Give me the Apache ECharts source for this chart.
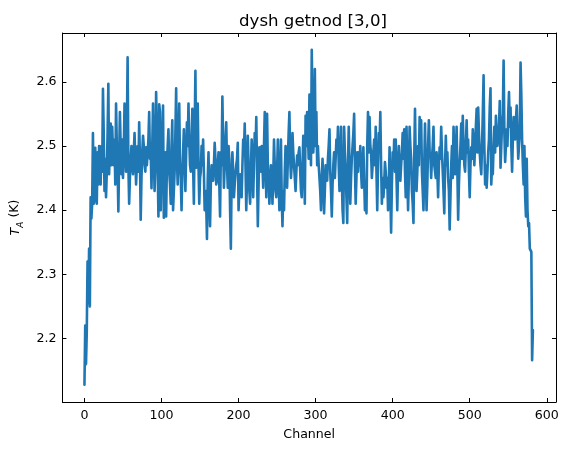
<!DOCTYPE html>
<html>
<head>
<meta charset="utf-8">
<script src="https://cdn.jsdelivr.net/npm/echarts@6/dist/echarts.min.js"></script>
<style>html,body{margin:0;padding:0;background:#fff}#c{width:569px;height:450px}</style>
</head>
<body>
<div id="c"></div>
<script>
var titleText = 'dysh getnod [3,0]';
var xName = 'Channel';
var xTicks = [0, 100, 200, 300, 400, 500, 600];
var yTicks = [2.2, 2.3, 2.4, 2.5, 2.6];
var taValues = [
2.128,2.22,2.16,2.21,2.32,2.255,2.34,2.25,2.42,2.387,
2.41,2.52,2.41,2.47,2.497,2.415,2.41,2.49,2.44,2.50,
2.47,2.44,2.50,2.46,2.589,2.52,2.43,2.48,2.42,2.46,
2.52,2.597,2.456,2.50,2.535,2.47,2.53,2.49,2.47,2.51,
2.44,2.566,2.50,2.466,2.398,2.48,2.553,2.50,2.456,2.51,
2.45,2.49,2.566,2.50,2.46,2.52,2.638,2.47,2.41,2.45,
2.48,2.50,2.47,2.456,2.49,2.52,2.48,2.44,2.47,2.50,
2.46,2.537,2.48,2.385,2.45,2.49,2.516,2.50,2.47,2.46,
2.498,2.47,2.49,2.51,2.553,2.48,2.49,2.434,2.50,2.566,
2.49,2.43,2.47,2.584,2.52,2.47,2.39,2.565,2.553,2.40,
2.47,2.51,2.563,2.388,2.45,2.49,2.39,2.47,2.50,2.526,
2.46,2.44,2.41,2.50,2.54,2.40,2.40,2.46,2.52,2.59,
2.48,2.44,2.50,2.566,2.47,2.45,2.40,2.46,2.49,2.526,
2.47,2.43,2.49,2.537,2.50,2.566,2.51,2.47,2.46,2.50,
2.558,2.47,2.41,2.52,2.617,2.466,2.51,2.566,2.47,2.41,
2.45,2.46,2.50,2.47,2.51,2.46,2.40,2.43,2.41,2.355,
2.45,2.49,2.42,2.375,2.44,2.47,2.46,2.446,2.47,2.505,
2.48,2.44,2.446,2.47,2.49,2.44,2.39,2.49,2.47,2.577,
2.50,2.435,2.47,2.51,2.537,2.47,2.435,2.50,2.48,2.40,
2.34,2.45,2.49,2.46,2.42,2.44,2.456,2.47,2.48,2.505,
2.40,2.43,2.456,2.44,2.42,2.47,2.51,2.49,2.535,2.47,
2.40,2.45,2.516,2.47,2.43,2.41,2.46,2.51,2.48,2.42,
2.47,2.52,2.49,2.545,2.46,2.375,2.44,2.498,2.47,2.46,
2.50,2.47,2.435,2.50,2.553,2.48,2.42,2.55,2.47,2.45,
2.41,2.44,2.47,2.46,2.41,2.45,2.51,2.47,2.43,2.42,
2.46,2.51,2.45,2.40,2.44,2.51,2.42,2.375,2.43,2.40,
2.46,2.50,2.47,2.435,2.48,2.52,2.553,2.48,2.45,2.47,
2.52,2.49,2.47,2.45,2.43,2.46,2.485,2.47,2.49,2.498,
2.46,2.43,2.42,2.47,2.516,2.49,2.41,2.547,2.50,2.553,
2.52,2.48,2.58,2.53,2.47,2.65,2.55,2.49,2.52,2.62,
2.50,2.553,2.47,2.50,2.47,2.45,2.43,2.40,2.45,2.48,
2.44,2.395,2.43,2.47,2.45,2.446,2.48,2.50,2.526,2.46,
2.43,2.39,2.44,2.47,2.49,2.45,2.48,2.51,2.49,2.53,
2.47,2.43,2.48,2.53,2.45,2.40,2.38,2.53,2.49,2.46,
2.42,2.38,2.47,2.53,2.47,2.41,2.45,2.48,2.50,2.52,
2.55,2.47,2.41,2.45,2.49,2.46,2.49,2.47,2.50,2.46,
2.435,2.47,2.498,2.45,2.40,2.44,2.395,2.50,2.553,2.49,
2.545,2.50,2.49,2.45,2.47,2.49,2.51,2.47,2.53,2.46,
2.40,2.47,2.52,2.50,2.553,2.47,2.41,2.45,2.42,2.44,
2.475,2.46,2.435,2.45,2.40,2.44,2.498,2.43,2.365,2.44,
2.49,2.47,2.51,2.46,2.51,2.45,2.40,2.46,2.50,2.47,
2.446,2.47,2.49,2.52,2.48,2.526,2.46,2.42,2.53,2.46,
2.40,2.45,2.53,2.50,2.48,2.43,2.41,2.38,2.48,2.558,
2.47,2.43,2.46,2.50,2.47,2.545,2.49,2.54,2.46,2.43,
2.40,2.47,2.535,2.46,2.40,2.44,2.50,2.54,2.49,2.485,
2.45,2.48,2.50,2.53,2.47,2.47,2.45,2.49,2.46,2.42,
2.47,2.498,2.48,2.53,2.49,2.46,2.43,2.395,2.47,2.516,
2.47,2.49,2.45,2.43,2.37,2.42,2.47,2.50,2.45,2.53,
2.49,2.456,2.48,2.53,2.46,2.385,2.44,2.475,2.50,2.535,
2.48,2.547,2.50,2.47,2.46,2.50,2.54,2.49,2.51,2.46,
2.42,2.47,2.498,2.48,2.526,2.50,2.47,2.50,2.53,2.558,
2.49,2.56,2.52,2.49,2.47,2.456,2.50,2.55,2.61,2.50,
2.44,2.47,2.435,2.46,2.49,2.51,2.56,2.59,2.44,2.47,
2.456,2.50,2.53,2.49,2.547,2.52,2.50,2.50,2.53,2.57,
2.466,2.50,2.535,2.55,2.633,2.52,2.475,2.50,2.526,2.50,
2.55,2.584,2.53,2.56,2.50,2.46,2.51,2.545,2.52,2.51,
2.54,2.563,2.52,2.48,2.50,2.52,2.63,2.58,2.51,2.47,
2.44,2.50,2.42,2.39,2.48,2.40,2.375,2.38,2.34,2.337,
2.335,2.166,2.213
];

var seriesData = taValues.map(function (v, i) { return [i, v]; });
var font = 'DejaVu Sans';
var chart = echarts.init(document.getElementById('c'), null, {renderer: 'canvas'});
function frameAxis(extra) {
  return Object.assign({
    type: 'value',
    axisLine: {show: true, onZero: false, lineStyle: {color: '#000', width: 1}},
    splitLine: {show: false}
  }, extra);
}
chart.setOption({
  animation: false,
  backgroundColor: '#fff',
  title: {
    text: titleText, left: 308, top: 8, textAlign: 'center',
    textStyle: {fontFamily: font, fontSize: 16.6, fontWeight: 'normal', color: '#000'}
  },
  grid: {left: 60, right: 13, top: 33, bottom: 48, containLabel: false},
  xAxis: [
    frameAxis({
      position: 'bottom', min: -28.6, max: 612,
      name: xName, nameLocation: 'middle', nameGap: 26,
      nameTextStyle: {fontFamily: font, fontSize: 12.6, color: '#000'},
      axisTick: {show: true, inside: true, length: 4, customValues: xTicks, lineStyle: {color: '#000'}},
      axisLabel: {show: true, customValues: xTicks, margin: 7, fontFamily: font, fontSize: 12.6, color: '#000'}
    }),
    frameAxis({
      position: 'top', min: -28.6, max: 612,
      axisTick: {show: true, inside: true, length: 4, customValues: xTicks, lineStyle: {color: '#000'}},
      axisLabel: {show: false}
    })
  ],
  yAxis: [
    frameAxis({
      position: 'left', min: 2.101, max: 2.676,
      name: '{t|T}{s|A} (K)', nameLocation: 'middle', nameGap: 38, nameRotate: 90,
      nameTextStyle: {
        fontFamily: font, fontSize: 12.6, color: '#000',
        rich: {
          t: {fontFamily: font, fontSize: 12.6, fontStyle: 'italic', color: '#000', lineHeight: 16, verticalAlign: 'bottom'},
          s: {fontFamily: font, fontSize: 9, fontStyle: 'italic', color: '#000', lineHeight: 16, verticalAlign: 'bottom', padding: [0, 0, -3, 0]}
        }
      },
      axisTick: {show: true, inside: true, length: 4, customValues: yTicks, lineStyle: {color: '#000'}},
      axisLabel: {show: true, customValues: yTicks, margin: 6, fontFamily: font, fontSize: 12.6, color: '#000',
        formatter: function (v) { return v.toFixed(1); }}
    }),
    frameAxis({
      position: 'right', min: 2.101, max: 2.676,
      axisTick: {show: true, inside: true, length: 4, customValues: yTicks, lineStyle: {color: '#000'}},
      axisLabel: {show: false}
    })
  ],
  series: [{
    type: 'line',
    xAxisIndex: 0, yAxisIndex: 0,
    data: seriesData,
    showSymbol: false,
    symbol: 'none',
    clip: true,
    lineStyle: {color: '#1f77b4', width: 2.6, join: 'round', cap: 'round'}
  }]
});
</script>
</body>
</html>
